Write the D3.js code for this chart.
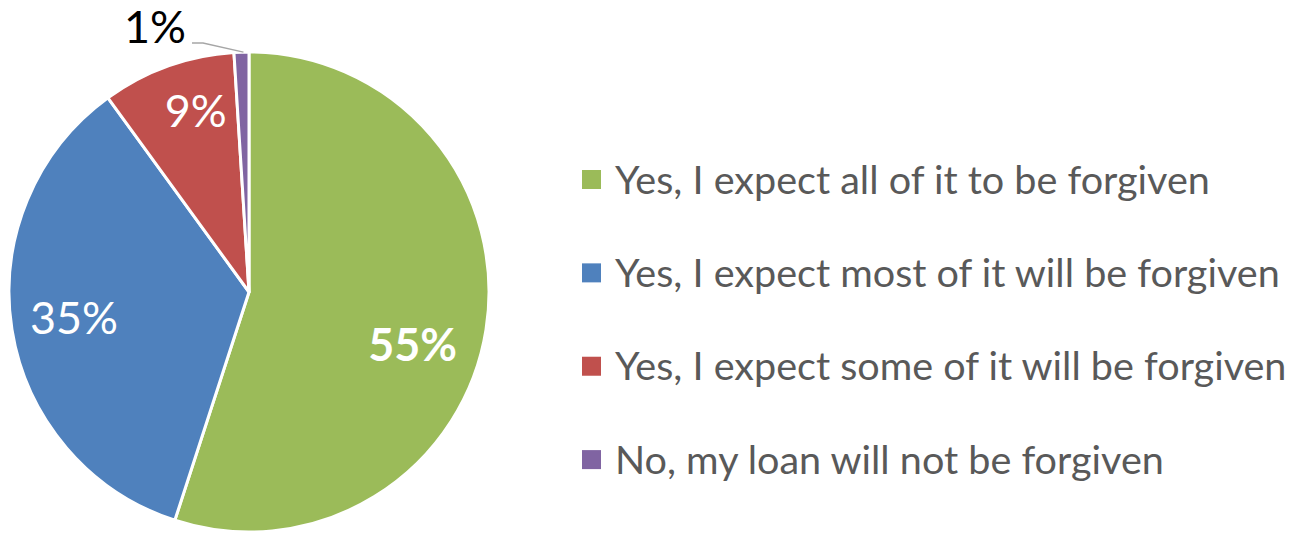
<!DOCTYPE html>
<html>
<head>
<meta charset="utf-8">
<script src="https://cdn.jsdelivr.net/npm/d3@7"></script>
<style>
  html, body { margin: 0; padding: 0; background: #fff; }
  svg { display: block; }
  text { font-family: Lato, "Open Sans", "Liberation Sans", sans-serif; }
</style>
</head>
<body>
<svg id="chart" width="1293" height="533"></svg>
<script>
// Survey answers: expectation of loan forgiveness
const categories = [
  "Yes, I expect all of it to be forgiven",
  "Yes, I expect most of it will be forgiven",
  "Yes, I expect some of it will be forgiven",
  "No, my loan will not be forgiven"
];
const values = [55, 35, 9, 1];
const valueLabels = ["55%", "35%", "9%", "1%"];
const colors = ["#9BBB59", "#4F81BD", "#C0504D", "#8064A2"];

const svg = d3.select("#chart");
const cx = 249, cy = 292, R = 240;

const pie = d3.pie().sort(null).value(d => d)(values);
const arc = d3.arc().innerRadius(0).outerRadius(R);

const g = svg.append("g").attr("transform", `translate(${cx},${cy})`);

g.selectAll("path.slice")
  .data(pie)
  .join("path")
  .attr("class", "slice")
  .attr("d", arc)
  .attr("fill", (d, i) => colors[i])
  .attr("stroke", "#fff")
  .attr("stroke-width", 3)
  .attr("stroke-linejoin", "round");

// Fit a font size so that a string renders at the given width
function fitSize(text, weight, targetWidth) {
  const t = svg.append("text").attr("font-size", 100).attr("font-weight", weight).text(text);
  const w = t.node().getComputedTextLength();
  t.remove();
  return 100 * targetWidth / w;
}

const labelSize = fitSize("35%", "normal", 88);
const capRatio = 0.72;

// label placement: radius and angular nudge per slice (best-fit style)
const labelLayout = [
  { r: 172, da: 0.155, bold: true, inside: true },
  { r: 177, da: 0.01, bold: false, inside: true },
  { r: 189, da: 0.06, bold: false, inside: true },
  { r: 0, da: 0, bold: false, inside: false }
];

pie.forEach((d, i) => {
  const L = labelLayout[i];
  const mid = (d.startAngle + d.endAngle) / 2;
  if (L.inside) {
    const a = mid + L.da;
    const x = Math.sin(a) * L.r;
    const y = -Math.cos(a) * L.r;
    g.append("text")
      .attr("x", x)
      .attr("y", y + labelSize * capRatio / 2)
      .attr("text-anchor", "middle")
      .attr("font-size", labelSize)
      .attr("font-weight", L.bold ? "bold" : "normal")
      .attr("fill", "#fff")
      .text(valueLabels[i]);
  } else {
    // small slice: label outside with a leader line to the rim
    const [ex, ey] = d3.arc().innerRadius(R).outerRadius(R).centroid(d);
    const tx = 155 - cx, ty = 43 - cy;
    g.append("text")
      .attr("x", tx)
      .attr("y", ty)
      .attr("text-anchor", "middle")
      .attr("font-size", labelSize)
      .attr("fill", "#000")
      .text(valueLabels[i]);
    g.append("path")
      .attr("d", d3.line()([[tx + 37, ty], [tx + 48, ty], [ex + 2, ey]]))
      .attr("fill", "none")
      .attr("stroke", "#A6A6A6")
      .attr("stroke-width", 1.5);
  }
});

// Legend
const legendSize = fitSize(categories[0], "normal", 595);
const legend = svg.append("g");
const rowY = d3.scalePoint().domain(d3.range(categories.length)).range([179.5, 459.6]);

categories.forEach((c, i) => {
  const y = rowY(i);
  legend.append("rect")
    .attr("x", 582).attr("y", y - 9.5)
    .attr("width", 19).attr("height", 19)
    .attr("fill", colors[i]);
  legend.append("text")
    .attr("x", 615)
    .attr("y", y + legendSize * capRatio / 2)
    .attr("font-size", legendSize)
    .attr("fill", "#595959")
    .text(c);
});
</script>
</body>
</html>
